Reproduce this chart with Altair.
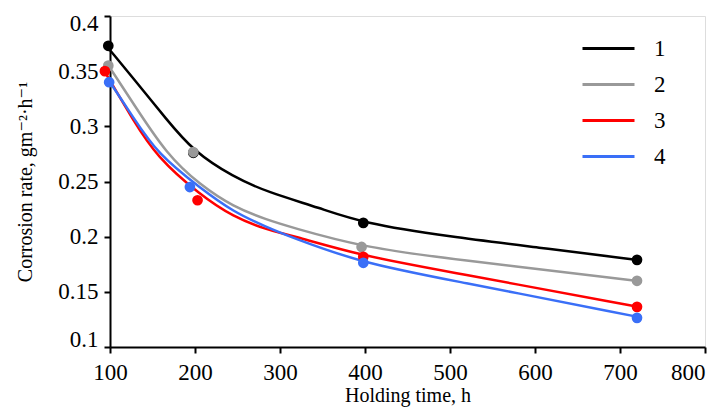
import altair as alt
import pandas as pd

series = ["1", "2", "3", "4"]
colors = ["#000000", "#999999", "#ff0000", "#3a6ff7"]

# measured points
pt_time = {
    "1": [98, 198, 398, 720],
    "2": [98, 198, 396, 720],
    "3": [94, 203, 398, 720],
    "4": [99, 194, 398, 720],
}
pt_rate = {
    "1": [0.373, 0.276, 0.2125, 0.179],
    "2": [0.355, 0.2767, 0.1907, 0.160],
    "3": [0.350, 0.233, 0.1817, 0.1364],
    "4": [0.340, 0.245, 0.1763, 0.1264],
}

# fitted curves
cv_time = {
    "1": [100, 127, 167, 198, 245, 285, 347, 396, 500, 606, 721],
    "2": [100, 127, 167, 206, 245, 285, 312, 396, 500, 721],
    "3": [94, 127, 155, 206, 245, 285, 312, 396, 500, 721],
    "4": [100, 127, 156, 206, 245, 285, 312, 396, 500, 721],
}
cv_rate = {
    "1": [0.3690, 0.3440, 0.3058, 0.2775, 0.2541, 0.2405, 0.2260, 0.2125, 0.1998, 0.1900, 0.1789],
    "2": [0.3530, 0.3212, 0.2741, 0.2469, 0.2270, 0.2152, 0.2088, 0.1907, 0.1798, 0.1599],
    "3": [0.3493, 0.3058, 0.2723, 0.2378, 0.2179, 0.2061, 0.2016, 0.1826, 0.1681, 0.1364],
    "4": [0.3400, 0.3085, 0.2750, 0.2442, 0.2224, 0.2085, 0.1998, 0.1762, 0.1608, 0.1273],
}

x_ticks = [100, 200, 300, 400, 500, 600, 700, 800]
y_ticks = [0.1, 0.15, 0.2, 0.25, 0.3, 0.35, 0.4]

curves = pd.DataFrame(
    [{"series": s, "t": t, "r": r, "o": i}
     for s in series for i, (t, r) in enumerate(zip(cv_time[s], cv_rate[s]))]
)
points = pd.DataFrame(
    [{"series": s, "t": t, "r": r}
     for s in series for t, r in zip(pt_time[s], pt_rate[s])]
)

FONT = "Liberation Serif, Times New Roman, DejaVu Serif, serif"

x_enc = alt.X(
    "t:Q",
    scale=alt.Scale(domain=[100, 800], nice=False, zero=False),
    axis=alt.Axis(
        values=x_ticks, title="Holding time, h", grid=False,
        labelFontSize=23, titleFontSize=20, labelFont=FONT, titleFont=FONT,
        labelColor="black", titleColor="black", titleFontWeight="normal",
        domainColor="black", domainWidth=2, tickColor="black", tickWidth=2,
        tickSize=6, labelPadding=8, titlePadding=1, labelFlush=False,
        labelAlign={"condition": {"test": "datum.value === 800", "value": "right"}, "value": "center"},
    ),
)
y_enc = alt.Y(
    "r:Q",
    scale=alt.Scale(domain=[0.1, 0.4], nice=False, zero=False),
    axis=alt.Axis(
        values=y_ticks, format=".2~f", title="Corrosion rate, gm⁻²·h⁻¹", grid=False,
        labelFontSize=23, titleFontSize=20, labelFont=FONT, titleFont=FONT,
        labelColor="black", titleColor="black", titleFontWeight="normal",
        domainColor="black", domainWidth=2, tickColor="black", tickWidth=2,
        tickSize=6, labelPadding=6, titlePadding=22,
        labelFlush=True, labelFlushOffset=4,
    ),
)
color_enc = alt.Color(
    "series:N",
    scale=alt.Scale(domain=series, range=colors),
    legend=alt.Legend(
        title=None, orient="none", legendX=484, legendY=18,
        symbolType="M-2,0L2,0", symbolSize=676, symbolStrokeWidth=3,
        labelFont=FONT, labelFontSize=23, labelColor="black",
        rowPadding=9, labelOffset=31,
    ),
)

lines = alt.Chart(curves).mark_line(interpolate="basis", strokeWidth=2.5, clip=False).encode(
    x=x_enc, y=y_enc, color=color_enc, order="o:Q", detail="series:N"
)
dots = alt.Chart(points).mark_circle(size=115, opacity=1).encode(
    x="t:Q", y="r:Q",
    color=alt.Color("series:N", scale=alt.Scale(domain=series, range=colors), legend=None),
)

chart = (
    alt.layer(lines, dots)
    .properties(
        width=595, height=331,
        autosize=alt.AutoSizeParams(type="none"),
        padding={"left": 102, "top": 8, "right": 5, "bottom": 60},
    )
    .configure_view(stroke=None)
    .configure(background="white")
)
chart.save("out.html", embed_options={"renderer": "svg", "actions": False})
